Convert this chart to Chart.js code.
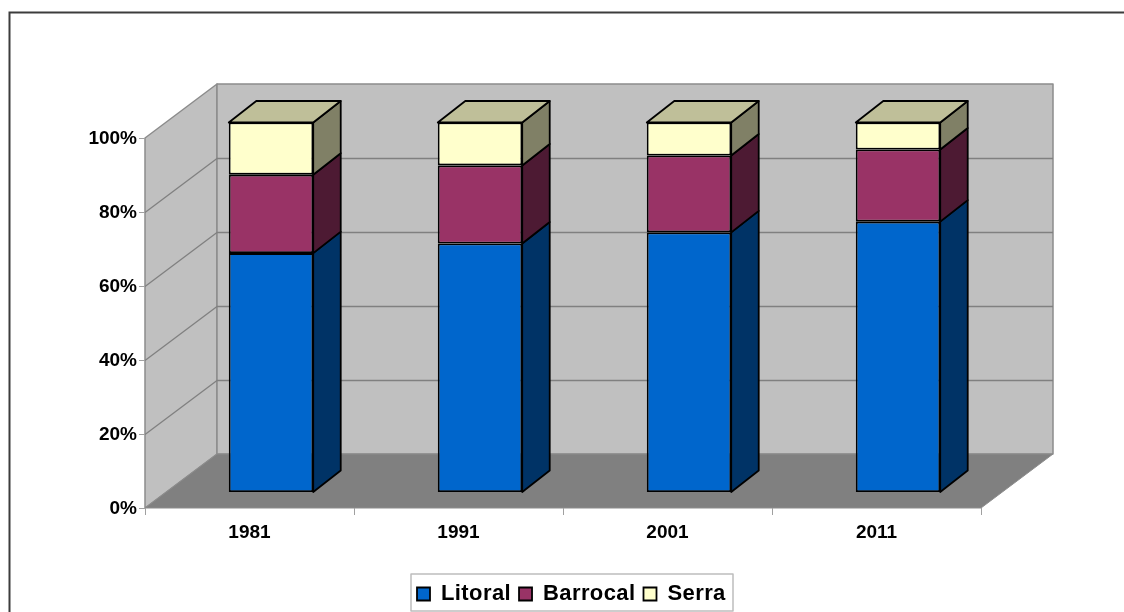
<!DOCTYPE html>
<html>
<head>
<meta charset="utf-8">
<style>html,body{margin:0;padding:0;background:#fff}canvas{display:block;filter:blur(0.4px)}</style>
<script src="https://cdn.jsdelivr.net/npm/chart.js@4"></script>
</head>
<body>
<canvas id="c" width="1124" height="612" style="width:1124px;height:612px"></canvas>
<script>
const categories = ['1981', '1991', '2001', '2011'];
const litoral = [64.7, 67.3, 70.3, 73.2];
const barrocal = [21.2, 21.1, 20.8, 19.5];
const serra = [14.1, 11.6, 8.9, 7.3];

const FONT = '"Liberation Sans", Arial, sans-serif';
const WALL = {dx: 72, dy: -54};
const BARPLANE = {dx: 21.5, dy: -15.5};
const BARDEPTH = {dx: 27.5, dy: -21.5};
const LEGEND_SPACING = '0.4px';
const faces = [
  {side: '#003366', top: '#004d99'},
  {side: '#4d1a33', top: '#732640'},
  {side: '#808066', top: '#bfbf99'}
];

function poly(ctx, pts, fill, stroke, lw) {
  ctx.beginPath();
  pts.forEach((p, i) => i ? ctx.lineTo(p[0], p[1]) : ctx.moveTo(p[0], p[1]));
  ctx.closePath();
  if (fill) { ctx.fillStyle = fill; ctx.fill(); }
  if (stroke) { ctx.strokeStyle = stroke; ctx.lineWidth = lw; ctx.lineJoin = 'round'; ctx.stroke(); }
}

const scene = {
  id: 'scene',
  beforeLayout(chart) { chart.ctx.letterSpacing = LEGEND_SPACING; },
  afterLayout(chart) {
    chart.ctx.letterSpacing = '0px';
    const l = chart.legend;
    const pad = l.options.labels.padding;
    const start = ((l.left + pad) + (l.right - l.lineWidths[0])) / 2;
    const dx = 417 - start;
    l.left += dx; l.right += dx;
    l.top = 575; l.bottom = 605;
    if (!l._spaced) {
      const draw = l.draw;
      l.draw = function (area) {
        this.ctx.letterSpacing = LEGEND_SPACING;
        draw.call(this, area);
        this.ctx.letterSpacing = '0px';
      };
      l._spaced = true;
    }
  },
  beforeDraw(chart) {
    const ctx = chart.ctx, xs = chart.scales.x, ys = chart.scales.y;
    const L = xs.left, R = xs.right, B = ys.getPixelForValue(0), T = ys.getPixelForValue(100);
    const {dx, dy} = WALL;
    ctx.save();
    ctx.strokeStyle = '#3c3c3c'; ctx.lineWidth = 2;
    ctx.beginPath(); ctx.moveTo(9.5, 612); ctx.lineTo(9.5, 12.5); ctx.lineTo(1124, 12.5); ctx.stroke();
    poly(ctx, [[L, T], [L + dx, T + dy], [L + dx, B + dy], [L, B]], '#c0c0c0', '#8c8c8c', 1.5);
    poly(ctx, [[L + dx, T + dy], [R + dx, T + dy], [R + dx, B + dy], [L + dx, B + dy]], '#c0c0c0', '#8c8c8c', 1.5);
    poly(ctx, [[L, B], [R, B], [R + dx, B + dy], [L + dx, B + dy]], '#808080', '#8c8c8c', 1);
    ctx.strokeStyle = '#808080'; ctx.lineWidth = 1.3;
    ys.ticks.forEach(t => {
      if (t.value === 0 || t.value === 100) return;
      const y = Math.round(ys.getPixelForValue(t.value)) + 0.5;
      ctx.beginPath(); ctx.moveTo(L, y); ctx.lineTo(L + dx, y + dy); ctx.lineTo(R + dx, y + dy); ctx.stroke();
    });
    ctx.strokeStyle = '#bdbdbd'; ctx.lineWidth = 1.5;
    ctx.strokeRect(411, 574, 322, 37);
    ctx.restore();
  },
  beforeDatasetsDraw(chart) {
    const ctx = chart.ctx;
    ctx.save();
    ctx.translate(BARPLANE.dx, BARPLANE.dy);
    const {dx, dy} = BARDEPTH;
    const n = chart.data.datasets.length;
    chart.data.datasets.forEach((ds, di) => {
      chart.getDatasetMeta(di).data.forEach(bar => {
        const left = bar.x - bar.width / 2, right = bar.x + bar.width / 2;
        const t = bar.y, b = bar.base;
        poly(ctx, [[right, t], [right + dx, t + dy], [right + dx, b + dy], [right, b]], faces[di].side, '#000', 1.8);
        if (di === n - 1) {
          poly(ctx, [[left, t], [left + dx, t + dy], [right + dx, t + dy], [right, t]], faces[di].top, '#000', 1.8);
        }
      });
    });
  },
  afterDatasetsDraw(chart) { chart.ctx.restore(); }
};

function series(label, data, color) {
  return {label, data, backgroundColor: color, borderColor: '#000', borderWidth: 1.8,
          borderSkipped: false, clip: false, barPercentage: 1, categoryPercentage: 0.404};
}

new Chart(document.getElementById('c'), {
  type: 'bar',
  data: {
    labels: categories,
    datasets: [
      series('Litoral', litoral, '#0066cc'),
      series('Barrocal', barrocal, '#993366'),
      series('Serra', serra, '#ffffcc')
    ]
  },
  options: {
    responsive: false,
    animation: false,
    devicePixelRatio: 1,
    layout: {padding: {left: 85, right: 143, top: 138, bottom: 34}},
    scales: {
      x: {
        stacked: true,
        afterFit(s) { s.height = 40; },
        grid: {drawOnChartArea: false, tickLength: 7, color: '#a0a0a0', offset: true},
        border: {display: false},
        ticks: {color: '#000', padding: 6, maxRotation: 0, font: {family: FONT, size: 19, weight: 'bold'}}
      },
      y: {
        stacked: true, min: 0, max: 100,
        afterFit(s) { s.width = 60; },
        grid: {drawOnChartArea: false, tickLength: 6, color: '#a0a0a0'},
        border: {display: false},
        ticks: {stepSize: 20, color: '#000', padding: 2, labelOffset: 1, callback: v => v + '%',
                font: {family: FONT, size: 19, weight: 'bold'}}
      }
    },
    plugins: {
      title: {display: false},
      tooltip: {enabled: false},
      legend: {
        display: true, position: 'bottom', maxHeight: 30,
        labels: {boxWidth: 13, boxHeight: 13, padding: 8, color: '#000',
                 font: {family: FONT, size: 22, weight: 'bold'}}
      }
    }
  },
  plugins: [scene]
});
</script>
</body>
</html>
